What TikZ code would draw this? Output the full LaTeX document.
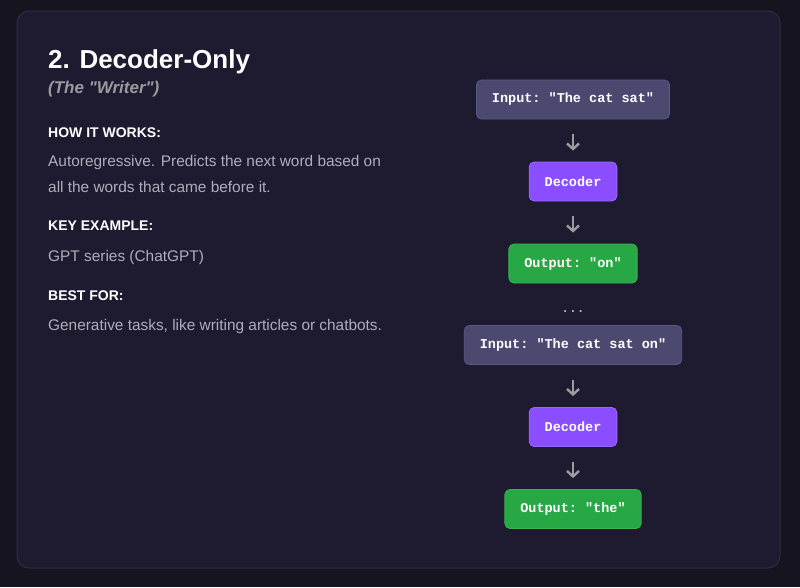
\documentclass[tikz,border=0pt]{standalone}
\usepackage{fontspec}
\setmainfont{Liberation Sans}
\setmonofont{Liberation Mono}
\usetikzlibrary{arrows.meta, positioning}
\definecolor{pagebg}{HTML}{16141F}
\definecolor{cardbg}{HTML}{1E1B31}
\definecolor{cardline}{HTML}{2F2B4B}
\definecolor{bodygray}{HTML}{B0ADBA}
\definecolor{subgray}{HTML}{9A9A9F}
\definecolor{arrowgray}{HTML}{9C9CA0}
\definecolor{infill}{HTML}{4B4970}
\definecolor{inline}{HTML}{5C5A84}
\definecolor{decfill}{HTML}{8A4DFF}
\definecolor{decline}{HTML}{9B66FF}
\definecolor{outfill}{HTML}{28A745}
\definecolor{outline}{HTML}{34B552}
\tikzset{x = 1pt, y = -1pt,
         node distance = 82pt, on grid,
         box/.style = {rounded corners = 5pt, line width = 0.8pt,
                       minimum height = 39pt, inner xsep = 15.5pt,
                       text = white,
                       font = \ttfamily\bfseries\fontsize{13.5}{16}\selectfont},
         inbox/.style = {box, fill = infill, draw = inline},
         decbox/.style = {box, fill = decfill, draw = decline},
         outbox/.style = {box, fill = outfill, draw = outline},
         flow/.style = {-{Straight Barb[length = 5.5pt, width = 12pt]},
                        line width = 2.4pt, draw = arrowgray,
                        shorten <= 15pt, shorten >= 11pt},
         heading/.style = {anchor = base west, inner sep = 0pt, text = white,
                           font = \bfseries\fontsize{14}{17}\selectfont},
         body/.style = {anchor = base west, inner sep = 0pt, text = bodygray,
                        font = \fontsize{15.4}{18}\selectfont}}
\begin{document}
\begin{tikzpicture}
  \useasboundingbox[fill = pagebg] (0,0) rectangle (800,587);
  \draw[fill = cardbg, draw = cardline, line width = 1pt, rounded corners = 12pt]
    (17,11) rectangle (780,568);

  % left column
  \node[anchor = base west, inner sep = 0pt, text = white,
        font = \bfseries\fontsize{26}{30}\selectfont] (title) at (48,68) {2. Decoder-Only};
  \node[anchor = base west, inner sep = 0pt, text = subgray,
        font = \bfseries\itshape\fontsize{17}{20}\selectfont] (sub) at (48,93)
        {(The \textquotedbl Writer\textquotedbl)};
  \node[heading] (how) at (48,137) {HOW IT WORKS:};
  \node[body] (how1) at (48,166) {Autoregressive. Predicts the next word based on};
  \node[body] (how2) at (48,192) {all the words that came before it.};
  \node[heading] (key) at (48,230) {KEY EXAMPLE:};
  \node[body] (key1) at (48,261) {GPT series (ChatGPT)};
  \node[heading] (best) at (48,300) {BEST FOR:};
  \node[body] (best1) at (48,330) {Generative tasks, like writing articles or chatbots.};

  % right column
  \node[inbox]  (in1)  at (573,99.5)   {Input: "The cat sat"};
  \node[decbox] (dec1) [below = of in1]  {Decoder};
  \node[outbox] (out1) [below = of dec1] {Output: "on"};
  \node[text = bodygray, inner sep = 0pt, font = \ttfamily\bfseries\fontsize{13}{16}\selectfont]
                (gap)  [below = 48pt of out1] {...};
  \node[inbox]  (in2)  [below = 81.5pt of out1] {Input: "The cat sat on"};
  \node[decbox] (dec2) [below = of in2]  {Decoder};
  \node[outbox] (out2) [below = of dec2] {Output: "the"};

  \path[flow] (in1)  edge (dec1);
  \path[flow] (dec1) edge (out1);
  \path[flow] (in2)  edge (dec2);
  \path[flow] (dec2) edge (out2);
\end{tikzpicture}
\end{document}
